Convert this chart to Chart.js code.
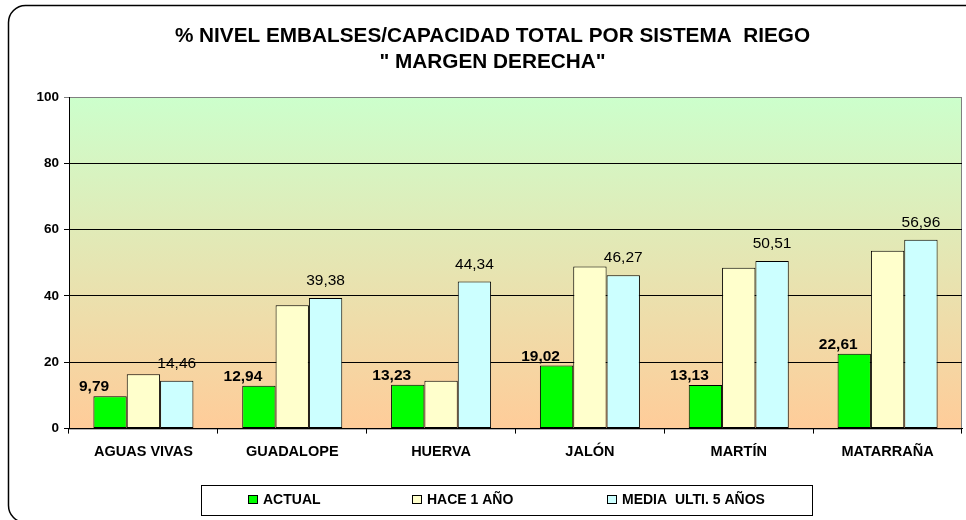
<!DOCTYPE html>
<html>
<head>
<meta charset="utf-8">
<script src="https://cdn.jsdelivr.net/npm/chart.js@4/dist/chart.umd.min.js"></script>
<style>
  html, body { margin: 0; padding: 0; background: #ffffff; }
  #wrap { width: 966px; height: 520px; }
</style>
</head>
<body>
<div id="wrap"><canvas id="c" width="966" height="520"></canvas></div>
<script>
const categories = ['AGUAS VIVAS', 'GUADALOPE', 'HUERVA', 'JALÓN', 'MARTÍN', 'MATARRAÑA'];
const seriesNames = ['ACTUAL', 'HACE 1 AÑO', 'MEDIA  ULTI. 5 AÑOS'];
const actual = [9.79, 12.94, 13.23, 19.02, 13.13, 22.61];
const hace1 = [16.4, 37.2, 14.4, 48.9, 48.5, 53.6];
const media5 = [14.46, 39.38, 44.34, 46.27, 50.51, 56.96];
const yTicks = [0, 20, 40, 60, 80, 100];
const titleLines = ['% NIVEL EMBALSES/CAPACIDAD TOTAL POR SISTEMA  RIEGO', '" MARGEN DERECHA"'];

const FONT = "'Liberation Sans', Arial, sans-serif";
const colors = ['#00ff00', '#ffffcc', '#ccffff'];

function fmt(v) { return v.toFixed(2).replace('.', ','); }

const bgPlugin = {
  id: 'bg',
  beforeDraw(chart) {
    const ctx = chart.ctx;
    const a = chart.chartArea;
    ctx.save();
    ctx.fillStyle = '#ffffff';
    ctx.fillRect(0, 0, chart.width, chart.height);
    ctx.strokeStyle = '#000000';
    ctx.lineWidth = 1.5;
    ctx.beginPath();
    ctx.roundRect(8.5, 5.5, 990, 517, 17);
    ctx.stroke();
    ctx.fillStyle = '#000000';
    ctx.font = 'bold 20.75px ' + FONT;
    ctx.textAlign = 'center';
    ctx.textBaseline = 'middle';
    ctx.fillText(titleLines[0], 492.5, 36);
    ctx.fillText(titleLines[1], 492.5, 62);
    const g = ctx.createLinearGradient(0, a.top, 0, a.bottom);
    g.addColorStop(0, '#ccffcc');
    g.addColorStop(1, '#ffcc99');
    ctx.fillStyle = g;
    ctx.fillRect(a.left, a.top, a.right - a.left, a.bottom - a.top);
    ctx.strokeStyle = '#808080';
    ctx.lineWidth = 1;
    ctx.strokeRect(a.left + 0.5, a.top + 0.5, a.right - a.left - 1, a.bottom - a.top);
    ctx.restore();
  }
};

const labelPlugin = {
  id: 'vlabels',
  afterDatasetsDraw(chart) {
    const ctx = chart.ctx;
    ctx.save();
    ctx.fillStyle = '#000000';
    ctx.textAlign = 'center';
    ctx.textBaseline = 'alphabetic';
    const m0 = chart.getDatasetMeta(0);
    ctx.font = 'bold 15.5px ' + FONT;
    m0.data.forEach((el, i) => {
      ctx.fillText(fmt(chart.data.datasets[0].data[i]), el.x - 16, el.y - 5);
    });
    const m2 = chart.getDatasetMeta(2);
    ctx.font = '15.5px ' + FONT;
    m2.data.forEach((el, i) => {
      ctx.fillText(fmt(chart.data.datasets[2].data[i]), el.x, el.y - 13);
    });
    ctx.restore();
  }
};

const legendPlugin = {
  id: 'customLegend',
  afterDraw(chart) {
    const ctx = chart.ctx;
    ctx.save();
    ctx.strokeStyle = '#000000';
    ctx.lineWidth = 1;
    ctx.strokeRect(201.5, 485.5, 611, 30);
    const markerX = [248, 412, 607];
    ctx.font = 'bold 14px ' + FONT;
    ctx.textBaseline = 'middle';
    ctx.textAlign = 'left';
    chart.data.datasets.forEach((ds, i) => {
      ctx.fillStyle = ds.backgroundColor;
      ctx.fillRect(markerX[i] + 0.5, 495.5, 9, 8);
      ctx.strokeStyle = '#000000';
      ctx.strokeRect(markerX[i] + 0.5, 495.5, 9, 8);
      ctx.fillStyle = '#000000';
      ctx.fillText(ds.label, markerX[i] + 15, 500.5);
    });
    ctx.restore();
  }
};

new Chart(document.getElementById('c'), {
  type: 'bar',
  data: {
    labels: categories,
    datasets: [
      { label: seriesNames[0], data: actual, backgroundColor: colors[0] },
      { label: seriesNames[1], data: hace1, backgroundColor: colors[1] },
      { label: seriesNames[2], data: media5, backgroundColor: colors[2] }
    ].map(d => Object.assign(d, { borderColor: '#000000', borderWidth: 1, borderSkipped: false }))
  },
  options: {
    responsive: false,
    animation: false,
    devicePixelRatio: 1,
    datasets: { bar: { categoryPercentage: 0.672, barPercentage: 1.0 } },
    layout: { padding: { top: 97, left: 0, right: 4, bottom: 49 } },
    plugins: {
      legend: { display: false },
      tooltip: { enabled: false },
      title: { display: false }
    },
    scales: {
      x: {
        grid: { display: true, drawOnChartArea: false, drawTicks: true, tickLength: 5, color: '#000000', offset: true },
        border: { display: true, color: '#000000', width: 1 },
        ticks: { color: '#000000', font: { family: FONT, size: 14.5, weight: 'bold' }, padding: 10, maxRotation: 0 }
      },
      y: {
        min: 0, max: 100,
        afterFit(scale) { scale.width = 69; },
        afterBuildTicks(scale) { scale.ticks = yTicks.map(v => ({ value: v })); },
        grid: {
          color: (c) => (c.tick && c.tick.value === 100) ? '#808080' : '#000000',
          lineWidth: 1, tickLength: 5, drawTicks: true
        },
        border: { display: true, color: '#000000', width: 1 },
        ticks: { color: '#000000', font: { family: FONT, size: 13.5, weight: 'bold' }, padding: 5 }
      }
    }
  },
  plugins: [bgPlugin, labelPlugin, legendPlugin]
});
</script>
</body>
</html>
